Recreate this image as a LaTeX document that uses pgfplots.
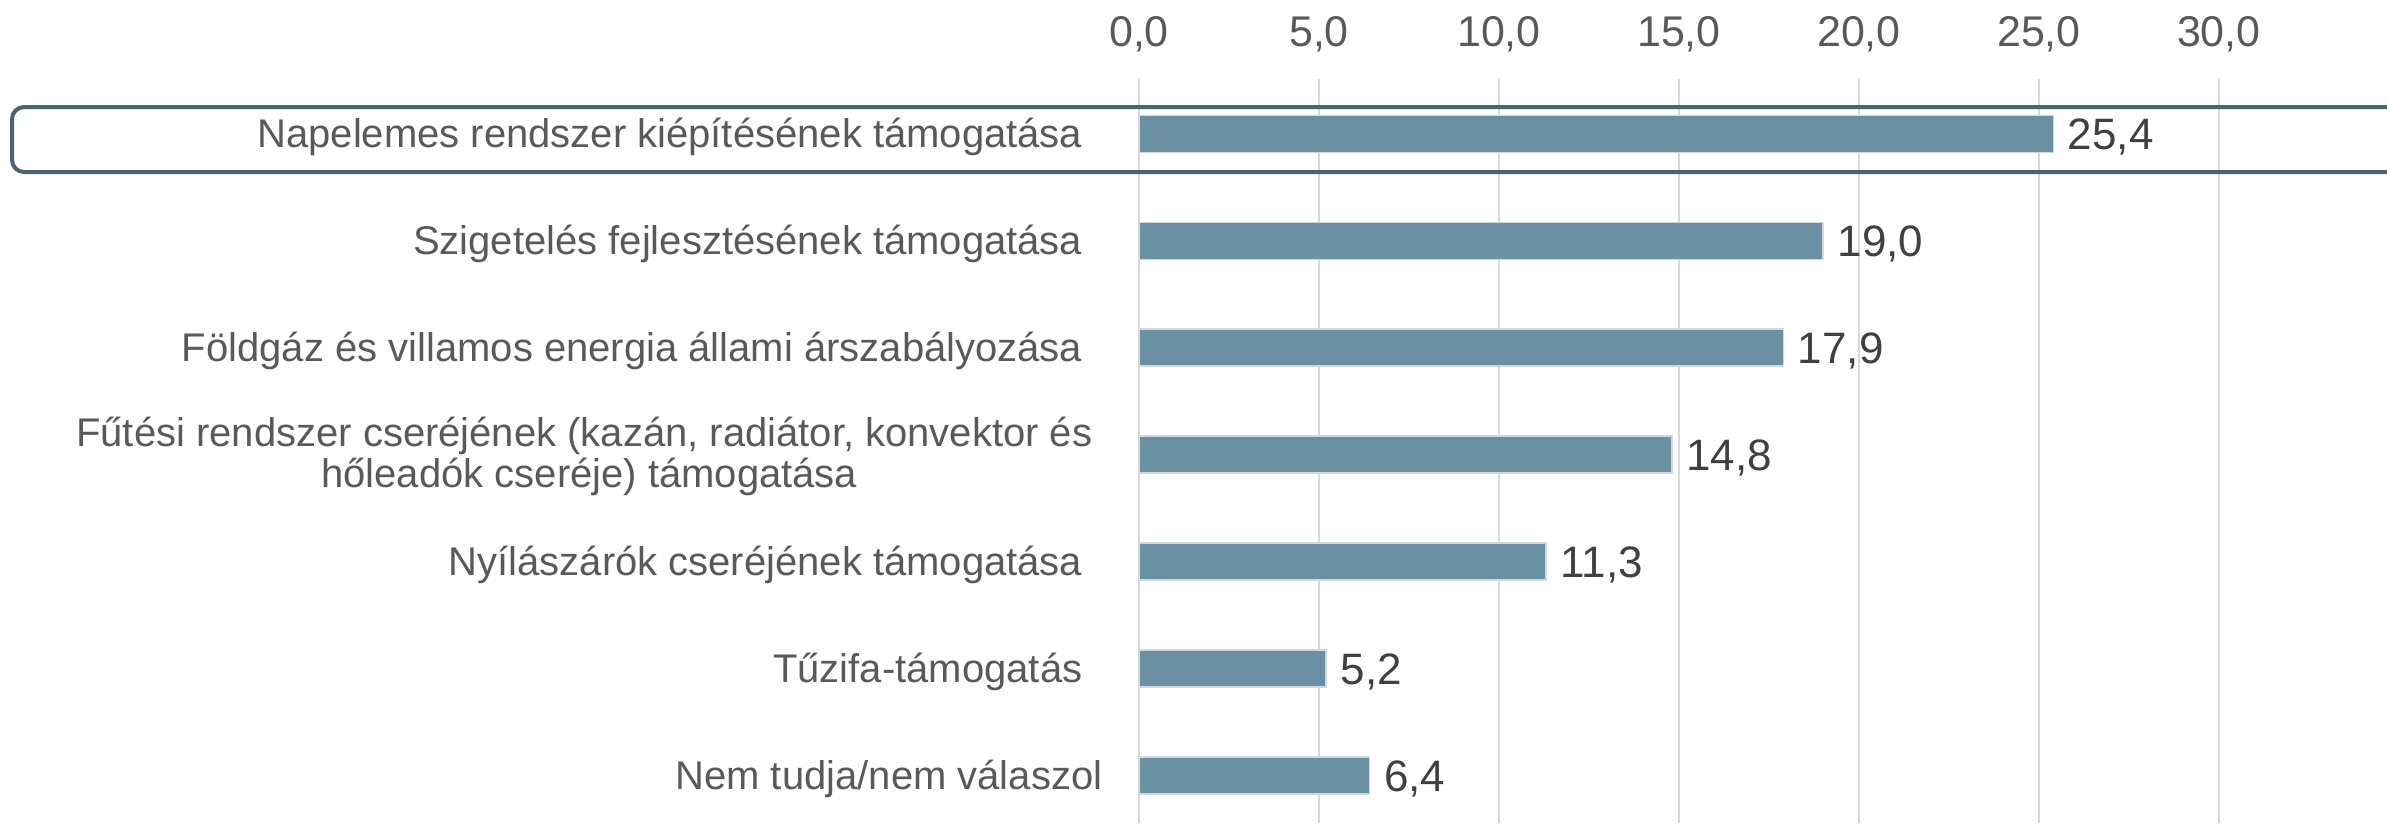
\documentclass[border=0pt]{standalone}
\usepackage{fontspec}
\setmainfont{Liberation Sans}
\usepackage{pgfplots}
\pgfplotsset{compat=1.18}
\definecolor{barfill}{RGB}{107,143,163}
\definecolor{baredge}{RGB}{205,218,226}
\definecolor{gridc}{RGB}{217,217,217}
\definecolor{txt}{RGB}{89,89,89}
\definecolor{lbl}{RGB}{64,64,64}
\definecolor{framec}{RGB}{74,98,114}
\newcommand{\tsp}{\rule{6pt}{0pt}}
\begin{document}
\begin{tikzpicture}
\path[use as bounding box] (0,0) rectangle (716.1pt,-246.9pt);
\begin{axis}[
  at={(341.7pt,-23.7pt)}, anchor=north west,
  scale only axis, width=374.4pt, height=223.2pt,
  xbar, bar width=11.1pt,
  xmin=0, xmax=34.67,
  ymin=-0.445, ymax=6.514,
  axis line style={draw=none},
  /pgf/number format/assume math mode=true,
  xtick={0,5,10,15,20,25,30},
  xticklabel pos=upper,
  xticklabel={\pgfmathprintnumber[fixed,fixed zerofill,precision=1,use comma]{\tick}},
  xticklabel style={font=\fontsize{12.9}{15}\selectfont, text=txt, yshift=4.5pt},
  xmajorgrids, major grid style={gridc, line width=0.6pt},
  tick style={draw=none},
  ytick={0,1,2,3,4,5,6},
  yticklabels={
    {Nem tudja/nem válaszol},
    {Tűzifa-támogatás\tsp},
    {Nyílászárók cseréjének támogatása\tsp},
    {\begin{tabular}{@{}c@{}}Fűtési rendszer cseréjének (kazán, radiátor, konvektor és\rule{3pt}{0pt}\\hőleadók cseréje) támogatása\end{tabular}},
    {Földgáz és villamos energia állami árszabályozása\tsp},
    {Szigetelés fejlesztésének támogatása\tsp},
    {Napelemes rendszer kiépítésének támogatása\tsp}
  },
  yticklabel style={font=\fontsize{12.0}{12.0}\selectfont, text=txt, xshift=-3.2pt, yshift=-1pt},
  nodes near coords={\pgfmathprintnumber[fixed,fixed zerofill,precision=1,use comma]{\pgfplotspointmeta}},
  point meta=x,
  nodes near coords style={font=\fontsize{13.2}{15}\selectfont, text=lbl, xshift=0.8pt, yshift=-1pt},
]
\addplot[fill=barfill, draw=baredge, line width=0.5pt] coordinates {
  (6.4,0) (5.2,1) (11.3,2) (14.8,3) (17.9,4) (19.0,5) (25.4,6)
};
\end{axis}
\draw[framec, line width=1.2pt, rounded corners=3.6pt] (3.6pt,-32.1pt) rectangle (760pt,-51.6pt);
\end{tikzpicture}
\end{document}
